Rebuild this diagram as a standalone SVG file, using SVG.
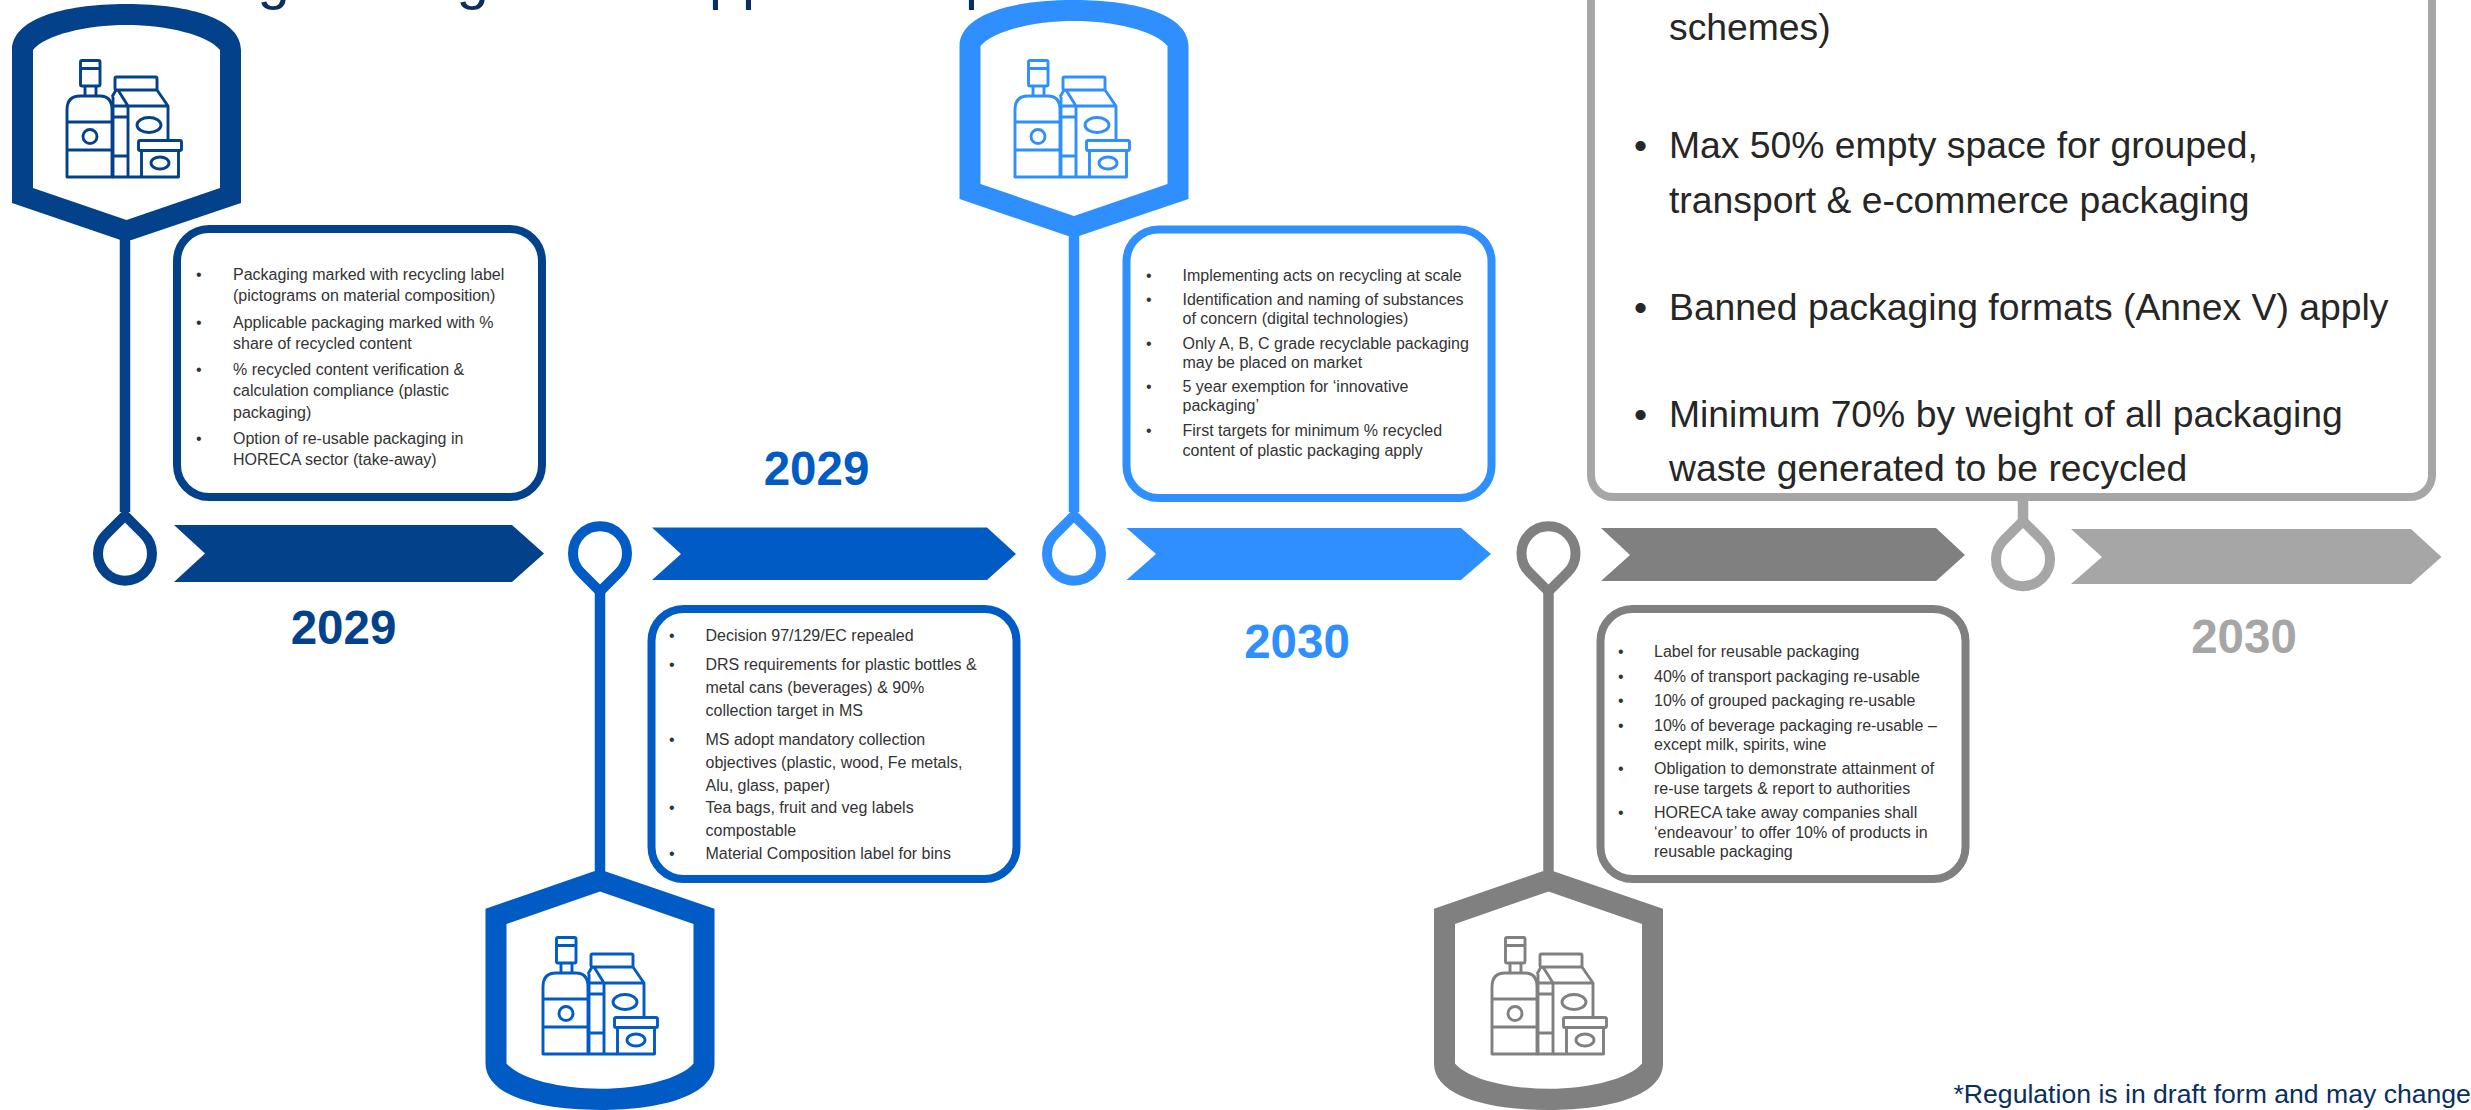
<svg xmlns="http://www.w3.org/2000/svg" width="2471" height="1110" viewBox="0 0 2471 1110">
<style>
text{font-family:"Liberation Sans",Arial,sans-serif}
.c1{color:#03428A}.c2{color:#005BC4}.c3{color:#2F8FFF}.c4{color:#808080}.c5{color:#A6A6A6}
.box{fill:#fff;stroke:currentColor;stroke-width:8}
.arrow{fill:currentColor}
.drop{fill:none;stroke:currentColor;stroke-width:10;stroke-linejoin:miter}
.stem{stroke:currentColor;stroke-width:10.5;fill:none}
.icon *{fill:none;stroke:currentColor;stroke-width:2.9;stroke-linejoin:round}
.shield{fill:currentColor;fill-rule:evenodd}
.t{font-size:16px;fill:#333}
.big{font-size:37.3px;fill:#262626}
.year{font-size:47.5px;font-weight:700;text-anchor:middle;fill:currentColor}
.ttl{font-size:58px;fill:#0A2F5F}
.note{font-size:26.6px;fill:#0A2F5F}
</style>
<defs>
<path id="shield" class="shield" d="M-114.500,50C-114.500,20 -66,4 0,4C66,4 114.500,20 114.500,50V203L5,240H-6L-114.500,203ZM-93.500,50V188L0,220L93.500,188V50C81,35 41,25 0,25C-41,25 -81,35 -93.500,50Z"/>
<g id="icon" class="icon">
<path d="M67,177V110Q67,96 80,96H100Q112,96 112,110V177Z"/>
<rect x="80.500" y="60.500" width="19.500" height="25.500" rx="1.500"/>
<path d="M80.500,68.500H100M85,86V96M96,86V96M67,122H112M67,150H112"/>
<circle cx="90" cy="136.500" r="7"/>
<rect x="115" y="77" width="42" height="13" rx="1.500"/>
<path d="M118,90L128,106H168L157,90M168,106V140M128,106V177M112,97L116,90M113,106H128M113,117H127M113,156H127M112,177H141M113,97V177"/>
<ellipse cx="149" cy="125" rx="12" ry="7.500"/>
<rect x="138.500" y="140.500" width="43" height="10" rx="1.500"/>
<path d="M141.500,150.500V177H178.500V150.500"/>
<ellipse cx="160" cy="163" rx="9" ry="6"/>
</g>
<path id="dropDown" class="drop" d="M0,-38L-19,-19A27,27 0 1 0 19,-19Z"/>
</defs>
<rect width="2471" height="1110" fill="#fff"/>

<g id="title-fragments">
<text class="ttl" x="257.500" y="-2.500">g</text>
<text class="ttl" x="456.500" y="-2.500">g</text>
<text class="ttl" x="709" y="-2.500">p</text>
<text class="ttl" x="742" y="-2.500">p</text>
<text class="ttl" x="965" y="-2.500">p</text>
</g>

<g id="connectors">
<path class="stem c1" d="M125,236V512"/>
<path class="stem c2" d="M600,590V875"/>
<path class="stem c3" d="M1074,232V512"/>
<path class="stem c4" d="M1548.500,590V875"/>
<path class="stem c5" d="M2023,497V520"/>
</g>

<g id="node-1" class="c1">
<use href="#shield" transform="translate(126.500,0)"/>
<use href="#icon"/>
<use href="#dropDown" transform="translate(125,553.500)"/>
<polygon class="arrow" points="174,525 512,525 544,553.500 512,582 174,582 205,553.500"/>
<rect class="box" x="177" y="229" width="365" height="268" rx="32"/>
<text class="t" x="196" y="280">•</text><text class="t" x="233" y="280">Packaging marked with recycling label</text>
<text class="t" x="233" y="301">(pictograms on material composition)</text>
<text class="t" x="196" y="328">•</text><text class="t" x="233" y="328">Applicable packaging marked with %</text>
<text class="t" x="233" y="349">share of recycled content</text>
<text class="t" x="196" y="375">•</text><text class="t" x="233" y="375">% recycled content verification &amp;</text>
<text class="t" x="233" y="396">calculation compliance (plastic</text>
<text class="t" x="233" y="418">packaging)</text>
<text class="t" x="196" y="444">•</text><text class="t" x="233" y="444">Option of re-usable packaging in</text>
<text class="t" x="233" y="465">HORECA sector (take-away)</text>
<text class="year" x="343.500" y="644">2029</text>
</g>

<g id="node-2" class="c2">
<use href="#shield" transform="translate(600,1114) scale(1,-1.011)"/>
<use href="#icon" transform="translate(476,877)"/>
<use href="#dropDown" transform="translate(600,553.500) scale(1,-1)"/>
<polygon class="arrow" points="652,527.500 987,527.500 1016,554 987,580 652,580 681,554"/>
<rect class="box" x="651.500" y="609" width="365" height="270" rx="32"/>
<text class="t" x="669" y="641">•</text><text class="t" x="705.500" y="641">Decision 97/129/EC repealed</text>
<text class="t" x="669" y="670">•</text><text class="t" x="705.500" y="670">DRS requirements for plastic bottles &amp;</text>
<text class="t" x="705.500" y="693">metal cans (beverages) &amp; 90%</text>
<text class="t" x="705.500" y="716">collection target in MS</text>
<text class="t" x="669" y="745">•</text><text class="t" x="705.500" y="745">MS adopt mandatory collection</text>
<text class="t" x="705.500" y="768">objectives (plastic, wood, Fe metals,</text>
<text class="t" x="705.500" y="791">Alu, glass, paper)</text>
<text class="t" x="669" y="813">•</text><text class="t" x="705.500" y="813">Tea bags, fruit and veg labels</text>
<text class="t" x="705.500" y="836">compostable</text>
<text class="t" x="669" y="859">•</text><text class="t" x="705.500" y="859">Material Composition label for bins</text>
<text class="year" x="816.500" y="485">2029</text>
</g>

<g id="node-3" class="c3">
<use href="#shield" transform="translate(1074,-4)"/>
<use href="#icon" transform="translate(948,0)"/>
<use href="#dropDown" transform="translate(1074,553.500)"/>
<polygon class="arrow" points="1126.500,528 1461,528 1491,554 1461,580 1126.500,580 1156,554"/>
<rect class="box" x="1126.500" y="229.500" width="365" height="268.500" rx="32"/>
<text class="t" x="1146" y="280.500">•</text><text class="t" x="1182.500" y="280.500">Implementing acts on recycling at scale</text>
<text class="t" x="1146" y="304.500">•</text><text class="t" x="1182.500" y="304.500">Identification and naming of substances</text>
<text class="t" x="1182.500" y="323.500">of concern (digital technologies)</text>
<text class="t" x="1146" y="348.500">•</text><text class="t" x="1182.500" y="348.500">Only A, B, C grade recyclable packaging</text>
<text class="t" x="1182.500" y="367.500">may be placed on market</text>
<text class="t" x="1146" y="391.500">•</text><text class="t" x="1182.500" y="391.500">5 year exemption for ‘innovative</text>
<text class="t" x="1182.500" y="410.500">packaging’</text>
<text class="t" x="1146" y="435.500">•</text><text class="t" x="1182.500" y="435.500">First targets for minimum % recycled</text>
<text class="t" x="1182.500" y="455.500">content of plastic packaging apply</text>
<text class="year" x="1297" y="658">2030</text>
</g>

<g id="node-4" class="c4">
<use href="#shield" transform="translate(1548.500,1114) scale(1,-1.011)"/>
<use href="#icon" transform="translate(1425,877)"/>
<use href="#dropDown" transform="translate(1548.500,553.500) scale(1,-1)"/>
<polygon class="arrow" points="1601,528 1936,528 1965,555 1936,581 1601,581 1630,555"/>
<rect class="box" x="1600.500" y="609" width="365" height="270" rx="32"/>
<text class="t" x="1618" y="657">•</text><text class="t" x="1654" y="657">Label for reusable packaging</text>
<text class="t" x="1618" y="682">•</text><text class="t" x="1654" y="682">40% of transport packaging re-usable</text>
<text class="t" x="1618" y="706">•</text><text class="t" x="1654" y="706">10% of grouped packaging re-usable</text>
<text class="t" x="1618" y="731">•</text><text class="t" x="1654" y="731">10% of beverage packaging re-usable –</text>
<text class="t" x="1654" y="750">except milk, spirits, wine</text>
<text class="t" x="1618" y="774">•</text><text class="t" x="1654" y="774">Obligation to demonstrate attainment of</text>
<text class="t" x="1654" y="794">re-use targets &amp; report to authorities</text>
<text class="t" x="1618" y="818">•</text><text class="t" x="1654" y="818">HORECA take away companies shall</text>
<text class="t" x="1654" y="838">‘endeavour’ to offer 10% of products in</text>
<text class="t" x="1654" y="857">reusable packaging</text>
</g>

<g id="node-5" class="c5">
<use href="#dropDown" transform="translate(2023,559)"/>
<polygon class="arrow" points="2071,529 2411,529 2441.500,557 2411,584 2071,584 2102,557"/>
<rect class="box" x="1591" y="-60" width="841" height="557" rx="22"/>
<text class="big" x="1669" y="40">schemes)</text>
<text class="big" x="1634" y="158">•</text><text class="big" x="1669" y="158">Max 50% empty space for grouped,</text>
<text class="big" x="1669" y="212.500">transport &amp; e-commerce packaging</text>
<text class="big" x="1634" y="320">•</text><text class="big" x="1669" y="320">Banned packaging formats (Annex V) apply</text>
<text class="big" x="1634" y="427">•</text><text class="big" x="1669" y="427">Minimum 70% by weight of all packaging</text>
<text class="big" x="1669" y="481">waste generated to be recycled</text>
<text class="year" x="2244" y="652.500">2030</text>
</g>
<text id="footnote" class="note" x="1953.500" y="1103">*Regulation is in draft form and may change</text>
</svg>
